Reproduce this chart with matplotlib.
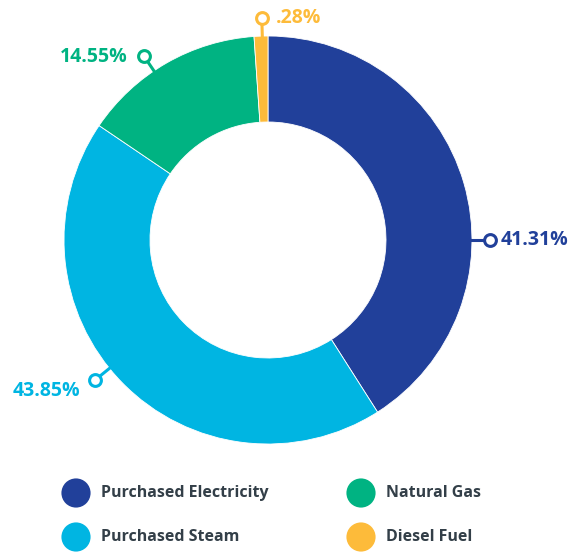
import matplotlib

matplotlib.use("Agg")
import matplotlib.pyplot as plt
import numpy as np

categories = ["Purchased Electricity", "Purchased Steam", "Natural Gas", "Diesel Fuel"]
shares = [41.31, 43.85, 14.55, 0.28]
# the source chart draws the diesel slice wider than its real share
drawn_shares = [41.31, 43.85, 14.55, 1.1]
pct_labels = ["41.31%", "43.85%", "14.55%", ".28%"]
colors = ["#21409A", "#00B5E2", "#00B382", "#FDBB3A"]

W, H = 574, 554
CX, CY = 268, H - 240
R_OUT, R_IN = 204, 118

# label callouts: angle (deg, clockwise from top), text offset px, alignment
label_angle = [90, 231, -34, -1.6]
label_off = [(11, 0, "left"), (-15, -11, "right"), (-16, -1, "right"), (14, 0, "left")]
R_LABEL = 222

plt.rcParams["font.family"] = ["Open Sans", "DejaVu Sans"]

fig = plt.figure(figsize=(W / 100, H / 100), dpi=100)
ax = fig.add_axes([0, 0, 1, 1])
ax.set_xlim(0, W)
ax.set_ylim(0, H)
ax.set_aspect("equal")
ax.axis("off")

ax.pie(
    drawn_shares,
    colors=colors,
    startangle=90,
    counterclock=False,
    center=(CX, CY),
    radius=R_OUT,
    wedgeprops=dict(width=R_OUT - R_IN, edgecolor="white", linewidth=0.6),
)
ax.set_xlim(0, W)
ax.set_ylim(0, H)

for ang, (dx, dy, ha), txt, col in zip(label_angle, label_off, pct_labels, colors):
    t = np.deg2rad(ang)
    x0, y0 = CX + (R_OUT - 2) * np.sin(t), CY + (R_OUT - 2) * np.cos(t)
    x1, y1 = CX + R_LABEL * np.sin(t), CY + R_LABEL * np.cos(t)
    ax.plot([x0, x1], [y0, y1], color=col, lw=2.2, solid_capstyle="butt", zorder=3)
    ax.plot(x1, y1, "o", ms=8.5, mfc="white", mec=col, mew=2.2, zorder=4)
    ax.text(x1 + dx, y1 + dy, txt, color=col, fontsize=14, fontweight="bold",
            ha=ha, va="center")

# legend, two columns
leg_x = [76, 361]
leg_y = [H - 493, H - 537]
for i, (name, col) in enumerate(zip(categories, colors)):
    r, c = i % 2, i // 2
    ax.scatter(leg_x[c], leg_y[r], s=21 ** 2, color=col, edgecolors="none")
    ax.text(leg_x[c] + 25, leg_y[r], name, color="#333F48", fontsize=11.5,
            fontweight="bold", ha="left", va="center")

fig.savefig("out.png", dpi=100)
